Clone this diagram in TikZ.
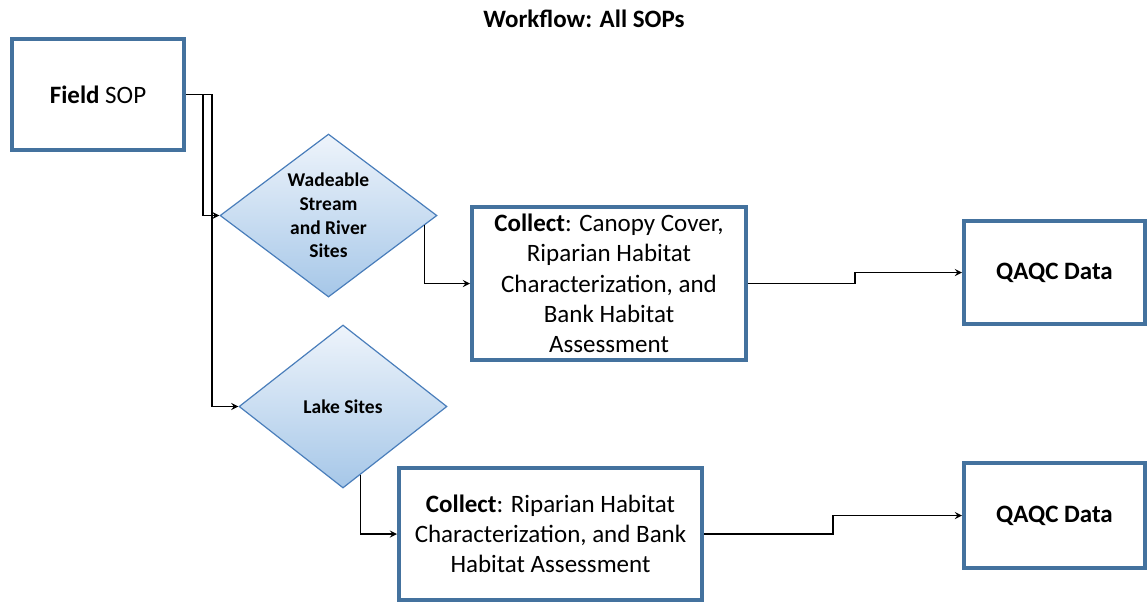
\documentclass[tikz,border=0pt]{standalone}
\usepackage{fontspec}
\setmainfont{Carlito}
\usepackage{tikz}
\usetikzlibrary{shapes.geometric, arrows, calc}
\definecolor{boxblue}{RGB}{68,114,158}
\definecolor{edgeblue}{RGB}{74,126,187}
\definecolor{toplight}{RGB}{238,244,251}
\definecolor{bottomdark}{RGB}{166,199,232}
\tikzstyle{arrow} = [semithick,->,>=stealth]
\tikzstyle{sopbox} = [draw=boxblue, line width=2pt, rectangle, fill=white, align=center, inner sep=2pt, font=\fontsize{12.5}{15.1}\selectfont]
\tikzstyle{sitediamond} = [draw=edgeblue, line width=0.6pt, diamond, aspect=1.33, inner sep=0pt, top color=toplight, bottom color=bottomdark, align=center, font=\bfseries\fontsize{9.75}{11.8}\selectfont]

\begin{document}
\begin{tikzpicture}[x=0.5pt,y=-0.5pt]
            \useasboundingbox (0,0) rectangle (1147,602);
            \node[anchor=base] (title) at (584,27) {\bfseries\fontsize{12.5}{15}\selectfont Workflow: All SOPs};
            \node[sopbox, minimum width=86pt, minimum height=55.5pt] (field) at (98,94.5) {\textbf{Field} SOP};
            \node[sitediamond, minimum width=108.5pt, minimum height=81.5pt] (wade) at (328.5,215.5) {Wadeable\\Stream\\and River\\Sites};
            \node[sitediamond, minimum width=104pt, minimum height=81.5pt] (lake) at (343,406.5) {Lake Sites};
            \node[sopbox, minimum width=137pt, minimum height=76.5pt] (col1) at (609,283.5) {\textbf{Collect}: Canopy Cover,\\Riparian Habitat\\Characterization, and\\Bank Habitat\\Assessment};
            \node[sopbox, minimum width=151.5pt, minimum height=65.75pt] (col2) at (550.5,534) {\textbf{Collect}: Riparian Habitat\\Characterization, and Bank\\Habitat Assessment};
            \node[sopbox, minimum width=90.5pt, minimum height=51.5pt] (qa1) at (1054.5,272.5) {\textbf{QAQC Data}};
            \node[sopbox, minimum width=90.5pt, minimum height=52.5pt] (qa2) at (1054.5,515.5) {\textbf{QAQC Data}};
            \coordinate (wadeout) at ($(wade.east)!0.12!(wade.south)$);
            \coordinate (lakeout) at ($(lake.east)!0.83!(lake.south)$);
            \draw[arrow] (field.east) -- ++(17,0) |- (wade.west);
            \draw[arrow] (field.east) -- ++(26,0) |- (lake.west);
            \draw[arrow] (wadeout) |- (col1.west);
            \draw[arrow] (lakeout) |- (col2.west);
            \draw[arrow] (col1.east) -- ++(107,0) |- (qa1.west);
            \draw[arrow] (col2.east) -- ++(129,0) |- (qa2.west);
        \end{tikzpicture}
\end{document}
